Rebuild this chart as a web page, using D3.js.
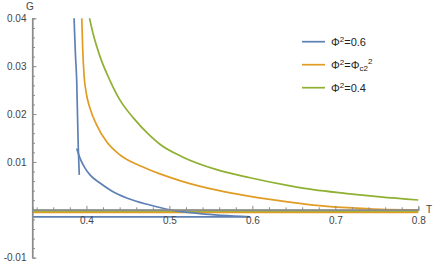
<!DOCTYPE html>
<html>
<head>
<meta charset="utf-8">
<script src="https://cdn.jsdelivr.net/npm/d3@7"></script>
<style>
  body{margin:0;background:#fff;}
  text{font-family:"Liberation Sans",Arial,sans-serif;}
</style>
</head>
<body>
<div id="chart"></div>
<script>
// curve data: [T, G]
const blueUpper = [[0.3850,0.0405],[0.3866,0.033],[0.3883,0.0268],[0.3902,0.0128],[0.3914,0.0073]]
const blueLower = [[0.3883,0.0128],[0.3922,0.0108],[0.3983,0.0087],[0.4043,0.0073],[0.4163,0.0056],
                   [0.4300,0.0040],[0.4485,0.00247],[0.4765,0.0010],[0.5007,0.0000],[0.5369,-0.0008],[0.5971,-0.00146]]
const blueFlat = [[0.335,-0.00146],[0.5971,-0.00146]]
const orangeCurve = [[0.3943,0.0405],[0.3955,0.0337],[0.3971,0.0282],[0.3995,0.0247],[0.4043,0.0212],
                     [0.4124,0.0177],[0.4244,0.0142],[0.4405,0.01145],[0.4606,0.0095],[0.4765,0.0083],
                     [0.4886,0.0075],[0.5164,0.0059],[0.5574,0.0041],[0.5972,0.0028],[0.6455,0.0016],
                     [0.6733,0.0010],[0.7140,0.00045],[0.7541,0.0001],[0.8,0.0]]
const orangeFlat = [[0.335,-0.0005],[0.8,-0.0005]]
const greenCurve = [[0.4031,0.0405],[0.4083,0.0366],[0.4164,0.0320],[0.4284,0.0270],[0.4405,0.0229],
                    [0.4565,0.0192],[0.4766,0.0155],[0.4886,0.0137],[0.5164,0.0110],[0.5570,0.0084],
                    [0.5972,0.0067],[0.6455,0.0050],[0.6733,0.0042],[0.7140,0.0034],[0.7541,0.0027],[0.8,0.00205]]
const greenFlat = [[0.335,-0.0002],[0.8,-0.0002]]

const xTicks = [0.4,0.5,0.6,0.7,0.8]
const xTickLabels = ["0.4","0.5","0.6","0.7","0.8"]
const yTicks = [0.04,0.03,0.02,0.01,-0.01]
const yTickLabels = ["0.04","0.03","0.02","0.01","-0.01"]
const seriesNames = ["0.6","c2","0.4"]
const seriesColors = ["#5E81B5","#E19C24","#8FB032"]

const width = 436, height = 262

const x = d3.scaleLinear().domain([0.335,0.8]).range([32.5,418.3])
const y = d3.scaleLinear().domain([-0.01,0.04]).range([257.7,18.3])

const svg = d3.select("#chart").append("svg")
  .attr("width",width).attr("height",height)

svg.append("defs").append("clipPath").attr("id","clip")
  .append("rect").attr("x",x(0.335)).attr("y",y(0.04)).attr("width",x(0.8)-x(0.335)+2).attr("height",y(-0.01)-y(0.04))

const axisColor = "#8c8c8c"

// minor ticks
const xMinor = d3.range(0.34,0.801,0.02).filter(v=>!xTicks.some(t=>Math.abs(t-v)<1e-6))
const yMinor = d3.range(-0.01,0.0401,0.002).filter(v=>!yTicks.some(t=>Math.abs(t-v)<1e-6) && Math.abs(v)>1e-6)

const xAxis = d3.axisBottom(x).tickValues(xTicks).tickSize(-4).tickPadding(7)
  .tickFormat((d,i)=>xTickLabels[i])
const xAxisMinor = d3.axisBottom(x).tickValues(xMinor).tickSize(-2.5).tickFormat("")
const yAxis = d3.axisLeft(y).tickValues(yTicks).tickSize(-4).tickPadding(6)
  .tickFormat((d,i)=>yTickLabels[i])
const yAxisMinor = d3.axisLeft(y).tickValues(yMinor).tickSize(-2.5).tickFormat("")

const line = d3.line().x(d=>x(d[0])).y(d=>y(d[1])).curve(d3.curveMonotoneX)

const plot = svg.append("g").attr("clip-path","url(#clip)")
const drawLine = (pts,color,w)=>plot.append("path").datum(pts)
  .attr("d",line).attr("fill","none").attr("stroke",color).attr("stroke-width",w||1.7)

drawLine(blueFlat,seriesColors[0])
drawLine(orangeFlat,seriesColors[1],2)
drawLine(greenFlat,seriesColors[2],2)
drawLine(orangeCurve,seriesColors[1])
drawLine(greenCurve,seriesColors[2])
drawLine(blueLower,seriesColors[0])
drawLine(blueUpper,seriesColors[0])

let gx = svg.append("g").attr("transform",`translate(0,${y(0)})`).call(xAxis)
let gxm = svg.append("g").attr("transform",`translate(0,${y(0)})`).call(xAxisMinor)
let gy = svg.append("g").attr("transform",`translate(${x(0.335)},0)`).call(yAxis)
let gym = svg.append("g").attr("transform",`translate(${x(0.335)},0)`).call(yAxisMinor)

;[gx,gxm,gy,gym].forEach(g=>{
  g.selectAll(".domain").attr("stroke",axisColor).attr("stroke-width",1.2)
  g.selectAll(".tick line").attr("stroke",axisColor)
  g.selectAll(".tick text").attr("fill","#444").style("font-size","10px").style("font-family","'Liberation Sans',Arial,sans-serif")
})
gx.select(".domain").attr("d",`M${x(0.335)},0H${x(0.8)}`)
gy.select(".domain").attr("d",`M0,${y(-0.01)}V${y(0.04)}`)

svg.append("text").attr("x",30).attr("y",10).attr("text-anchor","middle")
  .style("font-size","10px").attr("fill","#444").text("G")
svg.append("text").attr("x",426).attr("y",213)
  .style("font-size","10px").attr("fill","#444").text("T")

// legend
const leg = svg.append("g")
seriesNames.forEach((name,i)=>{
  const ly = 41.7 + i*23
  leg.append("line").attr("x1",302).attr("x2",325).attr("y1",ly).attr("y2",ly)
    .attr("stroke",seriesColors[i]).attr("stroke-width",1.7)
  const t = leg.append("text").attr("x",331).attr("y",ly+4).style("font-size","11px").attr("fill","#222")
  t.append("tspan").text("Φ")
  t.append("tspan").attr("dy",-4).style("font-size","8px").text("2")
  if(name==="c2"){
    t.append("tspan").attr("dy",4).text("=Φ")
    t.append("tspan").attr("dy",2).style("font-size","8px").text("c2")
    t.append("tspan").attr("dy",-7).style("font-size","8px").text("2")
  } else {
    t.append("tspan").attr("dy",4).text("="+name)
  }
})
</script>
</body>
</html>
